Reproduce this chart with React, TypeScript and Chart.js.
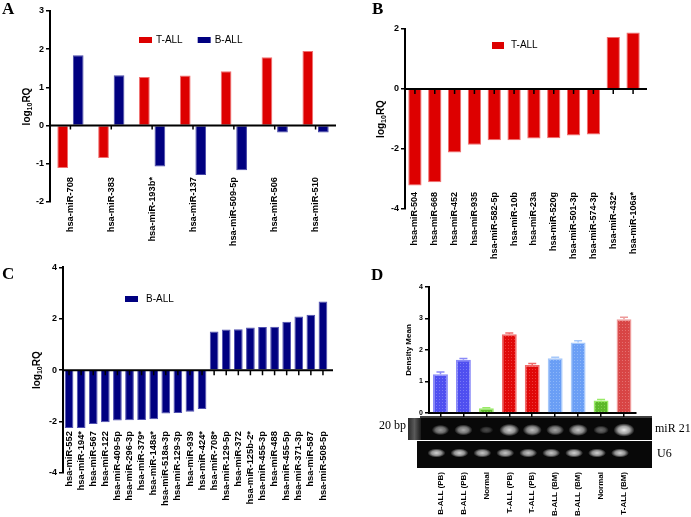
import React, { useEffect, useRef } from 'react';
import { Chart, registerables } from 'chart.js';

Chart.register(...registerables);

const SANS = "'Liberation Sans', Arial, sans-serif";
const SERIF = "'Liberation Serif', 'Times New Roman', serif";

// ---------- Panel A ----------
const A_CATEGORIES = ['hsa-miR-708', 'hsa-miR-383', 'hsa-miR-193b*', 'hsa-miR-137', 'hsa-miR-509-5p', 'hsa-miR-506', 'hsa-miR-510'];
const A_T_ALL = [-1.11, -0.85, 1.27, 1.31, 1.42, 1.79, 1.95];
const A_B_ALL = [1.84, 1.32, -1.07, -1.29, -1.17, -0.18, -0.18];

// ---------- Panel B ----------
const B_CATEGORIES = ['hsa-miR-504', 'hsa-miR-668', 'hsa-miR-452', 'hsa-miR-935', 'hsa-miR-582-5p', 'hsa-miR-10b', 'hsa-miR-23a', 'hsa-miR-520g', 'hsa-miR-501-3p', 'hsa-miR-574-3p', 'hsa-miR-432*', 'hsa-miR-106a*'];
const B_T_ALL = [-3.22, -3.11, -2.12, -1.86, -1.71, -1.71, -1.65, -1.64, -1.55, -1.52, 1.73, 1.88];

// ---------- Panel C ----------
const C_CATEGORIES = ['hsa-miR-552', 'hsa-miR-194*', 'hsa-miR-567', 'hsa-miR-122', 'hsa-miR-409-5p', 'hsa-miR-296-3p', 'hsa-miR-379*', 'hsa-miR-148a*', 'hsa-miR-518a-3p', 'hsa-miR-129-3p', 'hsa-miR-939', 'hsa-miR-424*', 'hsa-miR-708*', 'hsa-miR-129-5p', 'hsa-miR-372', 'hsa-miR-125b-2*', 'hsa-miR-455-3p', 'hsa-miR-488', 'hsa-miR-455-5p', 'hsa-miR-371-3p', 'hsa-miR-587', 'hsa-miR-508-5p'];
const C_B_ALL = [-2.25, -2.25, -2.09, -2.03, -1.96, -1.95, -1.94, -1.91, -1.68, -1.67, -1.62, -1.51, 1.51, 1.58, 1.59, 1.66, 1.68, 1.69, 1.89, 2.09, 2.16, 2.67];

// ---------- Panel D ----------
const D_CATEGORIES = ['B-ALL (PB)', 'B-ALL (PB)', 'Normal', 'T-ALL (PB)', 'T-ALL (PB)', 'B-ALL (BM)', 'B-ALL (BM)', 'Normal', 'T-ALL (BM)'];
const D_DENSITY = [1.23, 1.69, 0.15, 2.5, 1.52, 1.74, 2.24, 0.4, 2.98];
const D_SEM = [0.07, 0.04, 0.02, 0.04, 0.05, 0.03, 0.05, 0.03, 0.06];
const D_MIR21_BAND = [0.55, 0.62, 0.2, 0.8, 0.72, 0.6, 0.75, 0.35, 0.92];
const D_U6_BAND = [0.9, 0.9, 0.85, 0.85, 0.85, 0.85, 0.9, 0.9, 0.9];

const D_STYLE: Record<string, { base: string; dot: string; border: string }> = {
  'B-ALL (PB)': { base: '#4f4ff0', dot: '#7878f6', border: '#8a8af8' },
  'Normal': { base: '#5cb82a', dot: '#80d050', border: '#98ea66' },
  'T-ALL (PB)': { base: '#e00808', dot: '#ee3a3a', border: '#f06a6a' },
  'B-ALL (BM)': { base: '#6a9ef5', dot: '#8cb6f8', border: '#a6c8fa' },
  'T-ALL (BM)': { base: '#d84545', dot: '#e47070', border: '#ee9a9a' },
};

type Area = { l: number; t: number; r: number; b: number; w: number; h: number };

function stipple(base: string, dot: string) {
  const c = document.createElement('canvas');
  c.width = 3; c.height = 3;
  const g = c.getContext('2d')!;
  g.fillStyle = base; g.fillRect(0, 0, 3, 3);
  g.fillStyle = dot; g.fillRect(1, 1, 1, 1);
  return g.createPattern(c, 'repeat');
}

function yAxis(a: Area, min: number, max: number, step: number, size: number) {
  return {
    min, max,
    ticks: { stepSize: step, font: { size, weight: 'bold', family: SANS }, color: '#000', padding: 2 },
    grid: { display: true, drawOnChartArea: false, drawTicks: true, tickLength: 4, color: '#000', lineWidth: 1.5 },
    border: { display: true, color: '#000', width: 2 },
    afterFit: (s: any) => { s.width = a.l; },
  };
}

function xAxis(a: Area, padding: number, size: number, showTicks: boolean) {
  return {
    grid: { display: false },
    border: { display: false },
    ticks: { display: showTicks, autoSkip: false, minRotation: 90, maxRotation: 90, padding, font: { size, weight: 'bold', family: SANS }, color: '#000' },
    afterFit: (s: any) => { s.height = a.h - a.b; },
  };
}

// category labels that start just below the lowest bar (inside the plotting range)
function xLabels(startY: number, size: number) {
  return {
    id: 'xLabels',
    afterDraw(chart: any) {
      const { ctx, scales } = chart;
      const x = scales.x;
      ctx.save();
      ctx.fillStyle = '#000';
      ctx.font = `bold ${size}px ${SANS}`;
      ctx.textAlign = 'right';
      ctx.textBaseline = 'middle';
      (chart.data.labels as string[]).forEach((lab, i) => {
        const px = x.getPixelForValue(i);
        ctx.save();
        ctx.translate(px, startY);
        ctx.rotate(-Math.PI / 2);
        ctx.fillText(lab, 0, 0);
        ctx.restore();
      });
      ctx.restore();
    },
  };
}

function zeroAxis(extend: number, tick: number) {
  return {
    id: 'zeroAxis',
    afterDatasetsDraw(chart: any) {
      const { ctx, chartArea, scales } = chart;
      const x = scales.x, y = scales.y;
      const y0 = y.getPixelForValue(0);
      ctx.save();
      ctx.strokeStyle = '#000';
      ctx.lineWidth = 2;
      ctx.beginPath();
      ctx.moveTo(chartArea.left, y0);
      ctx.lineTo(chartArea.right + extend, y0);
      ctx.stroke();
      ctx.lineWidth = 1.5;
      ctx.beginPath();
      for (let i = 0; i < x.ticks.length; i++) {
        const px = x.getPixelForValue(i);
        ctx.moveTo(px, y0);
        ctx.lineTo(px, y0 + tick);
      }
      ctx.stroke();
      ctx.restore();
    },
  };
}

type Part = { text: string; size: number; sub?: number };
function yTitle(x: number, parts: Part[]) {
  return {
    id: 'yTitle',
    afterDraw(chart: any) {
      const { ctx, chartArea } = chart;
      const cy = (chartArea.top + chartArea.bottom) / 2;
      ctx.save();
      ctx.translate(x, cy);
      ctx.rotate(-Math.PI / 2);
      ctx.fillStyle = '#000';
      ctx.textBaseline = 'middle';
      ctx.textAlign = 'left';
      let total = 0;
      for (const p of parts) { ctx.font = `bold ${p.size}px ${SANS}`; total += ctx.measureText(p.text).width; }
      let cx = -total / 2;
      for (const p of parts) {
        ctx.font = `bold ${p.size}px ${SANS}`;
        ctx.fillText(p.text, cx, p.sub || 0);
        cx += ctx.measureText(p.text).width;
      }
      ctx.restore();
    },
  };
}

function boxLegend(x: number, y: number, boxW: number, boxH: number, gap: number, itemGap: number) {
  return {
    id: 'boxLegend',
    afterDraw(chart: any) {
      const ctx = chart.ctx;
      let cx = x;
      ctx.save();
      ctx.font = `10px ${SANS}`;
      ctx.textBaseline = 'middle';
      ctx.textAlign = 'left';
      chart.data.datasets.forEach((ds: any) => {
        ctx.fillStyle = ds.backgroundColor;
        ctx.fillRect(cx, y - boxH / 2, boxW, boxH);
        ctx.fillStyle = '#000';
        ctx.fillText(ds.label, cx + boxW + gap, y);
        cx += boxW + gap + ctx.measureText(ds.label).width + itemGap;
      });
      ctx.restore();
    },
  };
}

function baseOptions(a: Area, scales: any) {
  return {
    responsive: false,
    animation: false,
    devicePixelRatio: 1,
    layout: { padding: { left: 0, top: a.t, right: a.w - a.r, bottom: 0 } },
    plugins: { legend: { display: false }, tooltip: { enabled: false } },
    scales,
  };
}

const LOG_TITLE: Part[] = [
  { text: 'log', size: 10 },
  { text: '10', size: 7, sub: 3 },
  { text: 'RQ', size: 10 },
];

function configA(): any {
  const a: Area = { l: 50, t: 11, r: 336, b: 202, w: 345, h: 260 };
  return {
    type: 'bar',
    data: {
      labels: A_CATEGORIES,
      datasets: [
        { label: 'T-ALL', data: A_T_ALL, backgroundColor: '#dd0000', borderColor: '#f07070', borderWidth: 1, categoryPercentage: 0.76, barPercentage: 0.69 },
        { label: 'B-ALL', data: A_B_ALL, backgroundColor: '#000080', borderColor: '#4848a8', borderWidth: 1, categoryPercentage: 0.76, barPercentage: 0.69 },
      ],
    },
    options: baseOptions(a, { x: xAxis(a, 0, 9, false), y: yAxis(a, -2, 3, 1, 9) }),
    plugins: [zeroAxis(0, 4), xLabels(177, 9.3), yTitle(27, LOG_TITLE), boxLegend(139, 40, 13, 6, 4, 15)],
  };
}

function configB(): any {
  const a: Area = { l: 60, t: 29, r: 298, b: 209, w: 346, h: 260 };
  return {
    type: 'bar',
    data: {
      labels: B_CATEGORIES,
      datasets: [
        { label: 'T-ALL', data: B_T_ALL, backgroundColor: '#dd0000', borderColor: '#f07070', borderWidth: 1, categoryPercentage: 1, barPercentage: 0.67 },
      ],
    },
    options: baseOptions(a, { x: xAxis(a, 0, 9, false), y: yAxis(a, -4, 2, 2, 9) }),
    plugins: [zeroAxis(4, 5), xLabels(192, 9), yTitle(36.5, LOG_TITLE), boxLegend(147, 45.5, 12, 7, 7, 15)],
  };
}

function configC(): any {
  const a: Area = { l: 63, t: 6, r: 329, b: 213, w: 345, h: 257 };
  return {
    type: 'bar',
    data: {
      labels: C_CATEGORIES,
      datasets: [
        { label: 'B-ALL', data: C_B_ALL, backgroundColor: '#000080', borderColor: '#5050b0', borderWidth: 1, categoryPercentage: 1, barPercentage: 0.72 },
      ],
    },
    options: baseOptions(a, { x: xAxis(a, 0, 9, false), y: yAxis(a, -4, 4, 2, 9) }),
    plugins: [zeroAxis(4, 5), xLabels(171, 9.4), yTitle(37.5, LOG_TITLE), boxLegend(125, 39, 13, 6, 8, 15)],
  };
}

function errorCaps() {
  return {
    id: 'errorCaps',
    afterDatasetsDraw(chart: any) {
      const { ctx, scales } = chart;
      ctx.save();
      ctx.lineWidth = 1.5;
      D_DENSITY.forEach((v, i) => {
        const st = D_STYLE[D_CATEGORIES[i]];
        const px = scales.x.getPixelForValue(i);
        const y1 = scales.y.getPixelForValue(v);
        const y2 = scales.y.getPixelForValue(v + D_SEM[i]);
        ctx.strokeStyle = st.border;
        ctx.beginPath();
        ctx.moveTo(px, y1); ctx.lineTo(px, y2);
        ctx.moveTo(px - 4, y2); ctx.lineTo(px + 4, y2);
        ctx.stroke();
      });
      ctx.restore();
    },
  };
}

function band(ctx: CanvasRenderingContext2D, cx: number, cy: number, rx: number, ry: number, a: number) {
  ctx.save();
  ctx.translate(cx, cy);
  ctx.scale(rx, ry);
  const g = ctx.createRadialGradient(0, 0, 0, 0, 0, 1);
  g.addColorStop(0, `rgba(235,235,235,${a})`);
  g.addColorStop(0.55, `rgba(200,200,200,${a * 0.8})`);
  g.addColorStop(1, 'rgba(200,200,200,0)');
  ctx.fillStyle = g;
  ctx.beginPath();
  ctx.arc(0, 0, 1, 0, Math.PI * 2);
  ctx.fill();
  ctx.restore();
}

function gel() {
  return {
    id: 'gel',
    afterDraw(chart: any) {
      const { ctx, scales } = chart;
      const x = scales.x;
      ctx.save();
      ctx.strokeStyle = '#000';
      ctx.lineWidth = 1.5;
      ctx.beginPath();
      ctx.moveTo(75, 157); ctx.lineTo(307, 157);
      ctx.stroke();
      // miR 21 strip
      ctx.fillStyle = '#080808';
      ctx.fillRect(63, 158, 244, 22);
      const lg = ctx.createLinearGradient(63, 0, 76, 0);
      lg.addColorStop(0, '#2a2a2a');
      lg.addColorStop(0.5, '#5a5a5a');
      lg.addColorStop(1, '#1a1a1a');
      ctx.fillStyle = lg;
      ctx.fillRect(63, 158, 13, 22);
      D_MIR21_BAND.forEach((v, i) => {
        const px = x.getPixelForValue(i);
        band(ctx, px, 170, 6 + 5 * v, 3 + 4 * v, Math.min(1, v + 0.1));
      });
      // U6 strip
      ctx.fillStyle = '#080808';
      ctx.fillRect(72, 181, 235, 27);
      D_U6_BAND.forEach((v, i) => {
        const px = x.getPixelForValue(i) - 4;
        band(ctx, px, 193, 9, 4.5, v);
      });
      ctx.fillStyle = '#000';
      ctx.font = `12px ${SERIF}`;
      ctx.textBaseline = 'middle';
      ctx.textAlign = 'left';
      ctx.fillText('20 bp', 34, 166);
      ctx.fillText('miR 21', 310, 169);
      ctx.fillText('U6', 312, 194);
      ctx.restore();
    },
  };
}

function configD(): any {
  const a: Area = { l: 84, t: 27, r: 303, b: 153, w: 346, h: 257 };
  const bg = D_CATEGORIES.map((c) => stipple(D_STYLE[c].base, D_STYLE[c].dot));
  const bc = D_CATEGORIES.map((c) => D_STYLE[c].border);
  const x = xAxis(a, 55, 8, true) as any;
  x.grid = { display: true, drawOnChartArea: false, drawTicks: true, tickLength: 4, color: '#000', lineWidth: 1.5, offset: false };
  x.border = { display: true, color: '#000', width: 2 };
  return {
    type: 'bar',
    data: {
      labels: D_CATEGORIES,
      datasets: [
        { label: 'Density Mean', data: D_DENSITY, backgroundColor: bg, borderColor: bc, borderWidth: 1.5, categoryPercentage: 1, barPercentage: 0.65 },
      ],
    },
    options: baseOptions(a, { x, y: yAxis(a, 0, 4, 1, 7) }),
    plugins: [errorCaps(), gel(), yTitle(63.5, [{ text: 'Density Mean', size: 8 }])],
  };
}

const letterStyle = (left: number, top: number): React.CSSProperties => ({
  position: 'absolute', left, top, fontFamily: SERIF, fontWeight: 'bold', fontSize: 17, lineHeight: '17px', color: '#000',
});

export default function App() {
  const refA = useRef<HTMLCanvasElement>(null);
  const refB = useRef<HTMLCanvasElement>(null);
  const refC = useRef<HTMLCanvasElement>(null);
  const refD = useRef<HTMLCanvasElement>(null);

  useEffect(() => {
    const charts = [
      new Chart(refA.current!, configA()),
      new Chart(refB.current!, configB()),
      new Chart(refC.current!, configC()),
      new Chart(refD.current!, configD()),
    ];
    return () => charts.forEach((c) => c.destroy());
  }, []);

  const cv = (left: number, top: number): React.CSSProperties => ({ position: 'absolute', left, top });

  return (
    <div style={{ position: 'absolute', left: 0, top: 0, width: 691, height: 517, background: '#fff', overflow: 'hidden' }}>
      <canvas ref={refA} width={345} height={260} style={cv(0, 0)} />
      <canvas ref={refB} width={346} height={260} style={cv(345, 0)} />
      <canvas ref={refC} width={345} height={257} style={cv(0, 260)} />
      <canvas ref={refD} width={346} height={257} style={cv(345, 260)} />
      <div style={letterStyle(2, 0)}>A</div>
      <div style={letterStyle(372, 0)}>B</div>
      <div style={letterStyle(2, 265)}>C</div>
      <div style={letterStyle(371, 266)}>D</div>
    </div>
  );
}
